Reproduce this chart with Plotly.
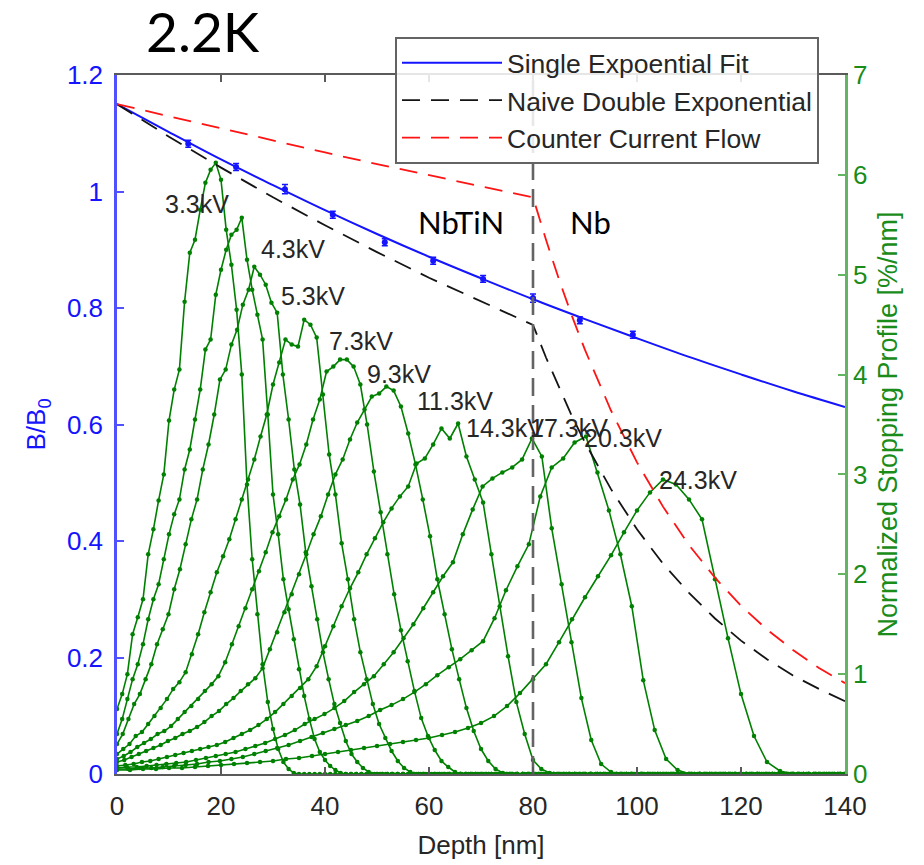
import plotly.graph_objects as go

# ---------------- data ----------------
depth_fit = [0, 10, 20, 30, 40, 50, 60, 70, 80, 90, 100, 110, 120, 130, 140]
single_fit = [1.150, 1.102, 1.055, 1.011, 0.968, 0.927, 0.888, 0.851, 0.815,
              0.781, 0.748, 0.716, 0.686, 0.657, 0.630]

data_depth = [13.7, 22.9, 32.3, 41.5, 51.5, 60.8, 70.4, 80.0, 89.0, 99.2]
data_b = [1.082, 1.042, 1.004, 0.960, 0.913, 0.881, 0.850, 0.817, 0.779, 0.754]
data_err = [0.006, 0.006, 0.008, 0.006, 0.006, 0.006, 0.006, 0.007, 0.006, 0.006]

naive_depth = [0, 10, 20, 30, 40, 50, 60, 70, 80, 82.5, 85, 87.5, 90, 95, 100, 105,
               110, 115, 120, 125, 130, 135, 140]
naive_b = [1.150, 1.094, 1.041, 0.990, 0.942, 0.896, 0.852, 0.811, 0.771, 0.715,
           0.663, 0.614, 0.569, 0.489, 0.420, 0.361, 0.311, 0.267, 0.229, 0.197,
           0.169, 0.146, 0.125]

ccf_depth = [0, 10, 20, 30, 40, 50, 60, 70, 80, 82.5, 85, 87.5, 90, 95, 100, 105,
             110, 115, 120, 125, 130, 135, 140]
ccf_b = [1.150, 1.129, 1.108, 1.087, 1.067, 1.047, 1.028, 1.009, 0.990, 0.917,
         0.849, 0.786, 0.728, 0.624, 0.535, 0.459, 0.393, 0.337, 0.289, 0.248,
         0.213, 0.182, 0.156]

interface_depth = [80, 80]
interface_b = [0, 1.2]

# stopping profiles [%/nm]; each list is sampled on its own depth bin width
profile_labels = ["3.3kV", "4.3kV", "5.3kV", "7.3kV", "9.3kV",
                  "11.3kV", "14.3kV", "17.3kV", "20.3kV", "24.3kV"]
profile_bin_nm = [1.0, 1.0, 1.1, 1.2, 1.3, 1.4, 1.6, 1.9, 2.2, 2.5]

p_3_3 = [0.65, 0.80, 1.00, 1.40, 1.57, 1.75, 2.20, 2.45, 2.74, 3.00, 3.54, 3.85,
         4.05, 4.73, 5.22, 5.35, 5.65, 5.92, 6.05, 6.12, 5.95, 5.45, 5.10, 4.65,
         4.00, 2.90, 2.15, 1.60, 1.10, 0.72, 0.45, 0.25, 0.12, 0.05, 0.01]
p_4_3 = [0.40, 0.55, 0.75, 0.95, 1.10, 1.30, 1.55, 1.75, 1.90, 2.15, 2.40, 2.60,
         2.75, 3.05, 3.25, 3.55, 3.85, 4.25, 4.35, 4.80, 5.05, 5.25, 5.40, 5.45,
         5.57, 5.15, 4.85, 4.60, 4.35, 3.60, 2.80, 2.40, 1.95, 1.65, 1.35, 1.05,
         0.78, 0.55, 0.35, 0.22, 0.14, 0.08, 0.04, 0.01]
p_5_3 = [0.30, 0.40, 0.55, 0.70, 0.80, 0.95, 1.10, 1.30, 1.45, 1.60, 1.85, 2.05,
         2.30, 2.55, 2.75, 3.05, 3.30, 3.60, 3.95, 4.05, 4.30, 4.45, 4.70, 4.85,
         5.08, 5.00, 4.90, 4.72, 4.62, 4.00, 3.55, 3.05, 2.70, 2.22, 1.88, 1.55,
         1.22, 0.95, 0.70, 0.51, 0.33, 0.20, 0.12, 0.06, 0.02, 0.00]
p_7_3 = [0.20, 0.25, 0.30, 0.38, 0.42, 0.50, 0.58, 0.66, 0.75, 0.85, 0.92, 1.02,
         1.20, 1.40, 1.62, 1.82, 2.02, 2.18, 2.35, 2.55, 2.75, 2.95, 3.15, 3.38,
         3.60, 3.90, 4.12, 4.35, 4.30, 4.28, 4.55, 4.50, 4.37, 3.80, 3.20, 2.80,
         2.31, 1.95, 1.55, 1.22, 0.95, 0.70, 0.50, 0.36, 0.23, 0.13, 0.06, 0.02, 0.00]
p_9_3 = [0.15, 0.18, 0.22, 0.27, 0.31, 0.35, 0.40, 0.43, 0.48, 0.55, 0.62, 0.68,
         0.75, 0.83, 0.90, 0.98, 1.12, 1.30, 1.48, 1.66, 1.85, 2.03, 2.22, 2.42,
         2.58, 2.75, 2.95, 3.10, 3.30, 3.55, 3.75, 4.03, 4.08, 4.15, 4.15, 4.08,
         3.90, 3.50, 3.03, 2.62, 2.20, 1.80, 1.44, 1.13, 0.83, 0.56, 0.38, 0.24,
         0.13, 0.07, 0.02, 0.00]
p_11_3 = [0.12, 0.14, 0.17, 0.20, 0.23, 0.26, 0.29, 0.33, 0.36, 0.40, 0.43, 0.47,
          0.52, 0.58, 0.63, 0.70, 0.76, 0.83, 0.90, 0.96, 1.06, 1.25, 1.42, 1.62,
          1.80, 2.00, 2.20, 2.40, 2.58, 2.80, 3.00, 3.15, 3.35, 3.52, 3.65, 3.78,
          3.81, 3.88, 3.84, 3.68, 3.41, 3.10, 2.75, 2.38, 1.95, 1.60, 1.25, 0.95,
          0.66, 0.43, 0.25, 0.13, 0.05, 0.01, 0.00]
p_14_3 = [0.08, 0.09, 0.10, 0.12, 0.13, 0.15, 0.17, 0.19, 0.21, 0.23, 0.25, 0.27,
          0.29, 0.32, 0.36, 0.40, 0.44, 0.49, 0.55, 0.62, 0.70, 0.78, 0.86, 0.95,
          1.08, 1.28, 1.48, 1.68, 1.86, 2.02, 2.20, 2.36, 2.52, 2.66, 2.78, 2.88,
          3.11, 3.16, 3.30, 3.46, 3.36, 3.51, 3.18, 2.95, 2.72, 2.20, 1.68, 1.18,
          0.72, 0.40, 0.14, 0.05, 0.01, 0.00]
p_17_3 = [0.06, 0.07, 0.07, 0.08, 0.09, 0.10, 0.11, 0.12, 0.14, 0.16, 0.18, 0.20,
          0.22, 0.25, 0.28, 0.31, 0.35, 0.39, 0.44, 0.50, 0.55, 0.60, 0.66, 0.73,
          0.82, 0.90, 0.98, 1.10, 1.22, 1.36, 1.50, 1.66, 1.82, 1.98, 2.12, 2.40,
          2.65, 2.88, 2.96, 3.02, 3.07, 3.15, 3.36, 3.18, 2.46, 1.90, 1.32, 0.76,
          0.34, 0.10, 0.02, 0.00]
p_20_3 = [0.05, 0.05, 0.06, 0.06, 0.07, 0.08, 0.09, 0.10, 0.12, 0.13, 0.15, 0.17,
          0.20, 0.23, 0.26, 0.29, 0.33, 0.37, 0.41, 0.45, 0.49, 0.53, 0.58, 0.64,
          0.69, 0.75, 0.82, 0.90, 0.99, 1.07, 1.15, 1.24, 1.33, 1.56, 1.84, 2.08,
          2.30, 2.78, 3.07, 3.16, 3.32, 3.38, 3.02, 2.64, 2.20, 1.68, 0.94, 0.44,
          0.15, 0.04, 0.00]
p_24_3 = [0.04, 0.04, 0.05, 0.05, 0.06, 0.06, 0.07, 0.08, 0.09, 0.10, 0.11, 0.12,
          0.13, 0.15, 0.16, 0.18, 0.20, 0.22, 0.24, 0.26, 0.28, 0.30, 0.32, 0.34,
          0.36, 0.39, 0.42, 0.46, 0.51, 0.58, 0.68, 0.81, 0.95, 1.10, 1.32, 1.55,
          1.77, 1.98, 2.19, 2.42, 2.64, 2.82, 2.95, 2.90, 2.75, 2.55, 1.95, 1.36,
          0.80, 0.38, 0.12, 0.03, 0.00]
profiles = [p_3_3, p_4_3, p_5_3, p_7_3, p_9_3, p_11_3, p_14_3, p_17_3, p_20_3, p_24_3]

label_depth = [15.3, 33.8, 37.6, 46.9, 54.2, 65.0, 74.6, 86.9, 97.4, 111.8]
label_profile = [5.71, 5.26, 4.79, 4.34, 4.01, 3.74, 3.46, 3.46, 3.36, 2.94]

region_names = ["NbTiN", "Nb"]
region_depth = [66.2, 91.0]
region_b = [0.948, 0.948]

# ---------------- styling ----------------
BLUE = "rgb(20,20,255)"
BLUE_AX = "rgb(80,80,255)"
GREEN = "rgb(0,128,0)"
GREEN_AX = "rgb(100,180,100)"
GREEN_TXT = "rgb(25,140,25)"
GREY = "rgb(90,90,90)"
TXT = "rgb(38,38,38)"
SANS = "Liberation Sans, Arial, Helvetica, sans-serif"
CAL = "Lato, Open Sans, sans-serif"
MAX_DEPTH = 140

fig = go.Figure()

# green stopping profiles (primary y, right side)
for vals, dx in zip(profiles, profile_bin_nm):
    ys = list(vals)
    while len(ys) * dx <= MAX_DEPTH + 1e-9:
        ys.append(0.0)
    xs = [i * dx for i in range(len(ys))]
    fig.add_trace(go.Scatter(
        x=xs, y=ys, mode="lines+markers", yaxis="y", showlegend=False,
        line=dict(color=GREEN, width=1.6),
        marker=dict(color=GREEN, size=4.5), hoverinfo="skip"))

# B/B0 curves (secondary y, left side)
fig.add_trace(go.Scatter(
    x=depth_fit, y=single_fit, mode="lines", yaxis="y2",
    name="Single Expoential Fit", legendgroup="a",
    line=dict(color=BLUE, width=2, shape="spline")))
fig.add_trace(go.Scatter(
    x=naive_depth, y=naive_b, mode="lines", yaxis="y2",
    name="Naive Double Exponential", legendgroup="b",
    line=dict(color="rgb(20,20,20)", width=1.8, dash="18px,11px")))
fig.add_trace(go.Scatter(
    x=ccf_depth, y=ccf_b, mode="lines", yaxis="y2",
    name="Counter Current Flow", legendgroup="c",
    line=dict(color="rgb(255,20,20)", width=1.8, dash="18px,11px")))
fig.add_trace(go.Scatter(
    x=data_depth, y=data_b, mode="markers", yaxis="y2", showlegend=False,
    marker=dict(color=BLUE, size=6, symbol="circle"),
    error_y=dict(type="data", array=data_err, color=BLUE, thickness=1.5, width=3)))
fig.add_trace(go.Scatter(
    x=interface_depth, y=interface_b, mode="lines", yaxis="y2", showlegend=False,
    line=dict(color="rgb(100,100,100)", width=2.6, dash="18px,9px"),
    hoverinfo="skip"))

annotations = []
for txt, xv, yv in zip(profile_labels, label_depth, label_profile):
    annotations.append(dict(x=xv, y=yv, xref="x", yref="y", text=txt,
                            showarrow=False, xanchor="center", yanchor="middle",
                            font=dict(family=SANS, size=25, color=TXT)))
for txt, xv, yv in zip(region_names, region_depth, region_b):
    annotations.append(dict(x=xv, y=yv, xref="x", yref="y2", text=txt,
                            showarrow=False, xanchor="center", yanchor="middle",
                            font=dict(family=CAL, size=31, color="black")))
annotations.append(dict(x=0.118, y=1.0, xref="paper", yref="paper", text="2.2K",
                        showarrow=False, xanchor="center", yanchor="bottom",
                        yshift=9,
                        font=dict(family=CAL, size=55, color="black")))

fig.update_layout(
    width=924, height=865,
    margin=dict(l=117, r=79, t=75, b=91, autoexpand=False),
    paper_bgcolor="white", plot_bgcolor="white",
    annotations=annotations,
    xaxis=dict(range=[0, 140], tickvals=[0, 20, 40, 60, 80, 100, 120, 140],
               ticks="inside", ticklen=7, tickwidth=1.5, tickcolor=GREY,
               showline=True, linecolor=GREY, linewidth=2, mirror="ticks",
               showgrid=False, zeroline=False, ticklabelstandoff=8,
               automargin=False,
               tickfont=dict(family=SANS, size=26, color=TXT),
               title=dict(text="Depth [nm]", standoff=16,
                          font=dict(family=SANS, size=26, color=TXT))),
    yaxis=dict(range=[0, 7], tickvals=[0, 1, 2, 3, 4, 5, 6, 7], side="right",
               ticks="inside", ticklen=7, tickwidth=1.5, tickcolor=GREEN_AX,
               showline=True, linecolor=GREEN_AX, linewidth=2.5,
               showgrid=False, zeroline=False, automargin=False,
               tickfont=dict(family=SANS, size=26, color=GREEN_TXT),
               title=dict(text="Normalized Stopping Profile [%/nm]", standoff=12,
                          font=dict(family=SANS, size=27, color=GREEN_TXT))),
    yaxis2=dict(range=[0, 1.2], overlaying="y", side="left",
                tickvals=[0, 0.2, 0.4, 0.6, 0.8, 1.0, 1.2],
                ticktext=["0", "0.2", "0.4", "0.6", "0.8", "1", "1.2"],
                ticks="inside", ticklen=7, tickwidth=1.5, tickcolor=BLUE_AX,
                showline=True, linecolor=BLUE_AX, linewidth=2.5,
                showgrid=False, zeroline=False, ticklabelstandoff=6,
                automargin=False,
                tickfont=dict(family=SANS, size=26, color=BLUE),
                title=dict(text="B/B<sub>0</sub>", standoff=14,
                           font=dict(family=SANS, size=26, color=BLUE))),
    legend=dict(x=(395 - 117) / 728, y=(774 - 37) / 699, xanchor="left", yanchor="top",
                bgcolor="rgba(255,255,255,0.85)", bordercolor="rgb(100,100,100)",
                borderwidth=2, font=dict(family=SANS, size=26.5, color=TXT),
                itemwidth=100, tracegroupgap=3, traceorder="normal"),
)

fig.write_html("out.html")
